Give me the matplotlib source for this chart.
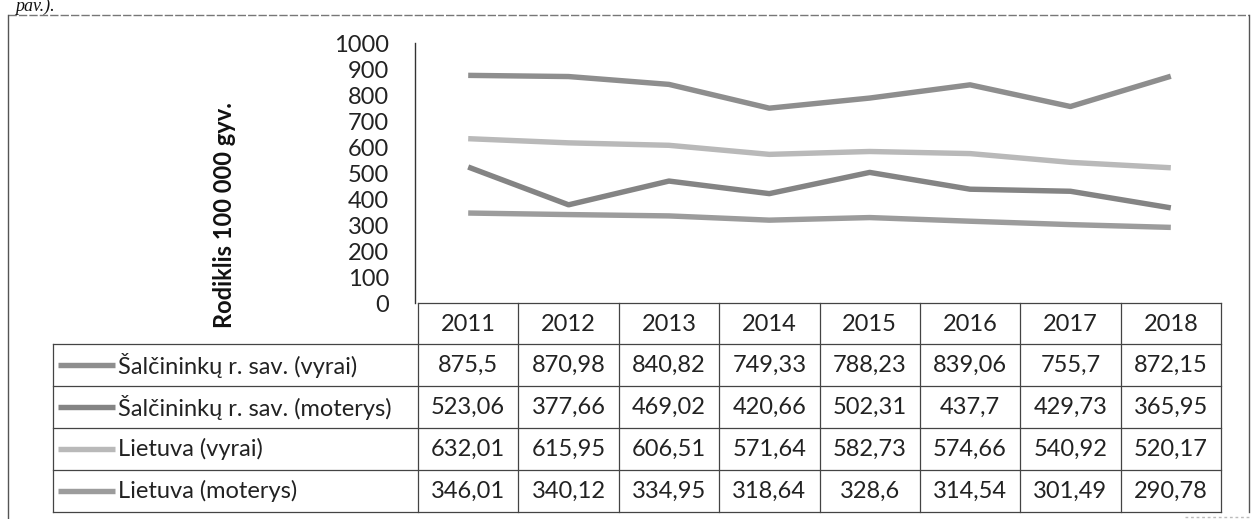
import matplotlib
matplotlib.use('Agg')
import matplotlib.pyplot as plt
from matplotlib.transforms import blended_transform_factory

# ---------------- data ----------------
years = [2011, 2012, 2013, 2014, 2015, 2016, 2017, 2018]
series_names = ["Šalčininkų r. sav. (vyrai)",
                "Šalčininkų r. sav. (moterys)",
                "Lietuva (vyrai)",
                "Lietuva (moterys)"]
salc_vyrai = [875.5, 870.98, 840.82, 749.33, 788.23, 839.06, 755.7, 872.15]
salc_moterys = [523.06, 377.66, 469.02, 420.66, 502.31, 437.7, 429.73, 365.95]
lt_vyrai = [632.01, 615.95, 606.51, 571.64, 582.73, 574.66, 540.92, 520.17]
lt_moterys = [346.01, 340.12, 334.95, 318.64, 328.6, 314.54, 301.49, 290.78]
y_ticks = [0, 100, 200, 300, 400, 500, 600, 700, 800, 900, 1000]
y_label = "Rodiklis 100 000 gyv."

series_values = [salc_vyrai, salc_moterys, lt_vyrai, lt_moterys]
colors = ["#8e8e8e", "#848484", "#b9b9b9", "#9c9c9c"]

plt.rcParams['font.family'] = ['Lato', 'DejaVu Sans']
FS = 17

W, H = 1254, 519
fig = plt.figure(figsize=(W / 100, H / 100), dpi=100)
fig.patch.set_facecolor('white')

# overlay axes in pixel coordinates
ov = fig.add_axes([0, 0, 1, 1])
ov.set_xlim(0, W)
ov.set_ylim(H, 0)
ov.axis('off')

# plot axes
x0, x1 = 418, 1221
ytop, ybot = 43, 303
ax = fig.add_axes([x0 / W, 1 - ybot / H, (x1 - x0) / W, (ybot - ytop) / H])
ax.patch.set_alpha(0)
ax.set_xlim(-0.5, len(years) - 0.5)
ax.set_ylim(0, 1000)
ax.set_yticks(y_ticks)
ax.set_yticklabels([str(t) for t in y_ticks])
ax.tick_params(axis='y', length=0, pad=18.5, labelsize=FS, labelcolor='#222222')
ax.set_xticks([])
for s in ['top', 'right', 'bottom']:
    ax.spines[s].set_visible(False)
ax.spines['left'].set_position(('outward', 2.2))
ax.spines['left'].set_color('#333333')
ax.spines['left'].set_linewidth(1.0)

xs = list(range(len(years)))
for vals, c in zip(series_values, colors):
    ax.plot(xs, vals, color=c, lw=3.9, solid_joinstyle='round', solid_capstyle='butt')

# outer frame
fc = '#555555'
ov.plot([8, 1249], [15, 15], color='#777777', lw=1.0, ls=(0, (6, 1.5)))
ov.plot([8, 8], [15, 519], color=fc, lw=1.0)
ov.plot([1249, 1249], [15, 512], color=fc, lw=1.0)
ov.plot([1185, 1249], [517, 517], color='#bbbbbb', lw=1.0, ls=(0, (2, 2)))

# "pav.)." fragment at top-left
ov.text(15, 11, "pav.).", fontsize=13, style='italic',
        family=['Liberation Serif', 'DejaVu Serif'], ha='left', va='baseline', color='#111111')

# y-label
ov.text(225, 215, y_label, rotation=90, ha='center', va='center',
        fontsize=FS, weight='bold', color='#111111')

# data table
tr = blended_transform_factory(ax.transData, ov.transData)
lc = '#444444'
header_top, header_bot = 303, 344
row_h = 42
rows_y = [header_bot + i * row_h for i in range(len(series_names) + 1)]
tab_left = 53
key_x0, key_x1 = 58, 115

# horizontal lines
ov.plot([x0, x1], [header_top, header_top], color=lc, lw=0.9)
for yy in rows_y:
    ov.plot([tab_left, x1], [yy, yy], color=lc, lw=0.9)
# vertical lines
for i in range(len(years) + 1):
    ov.plot([i - 0.5, i - 0.5], [header_top, rows_y[-1]], color=lc, lw=0.9, transform=tr)
ov.plot([tab_left, tab_left], [header_bot, rows_y[-1]], color=lc, lw=0.9)

# header
for i, yr in enumerate(years):
    ov.text(i, (header_top + header_bot) / 2 + 1, str(yr), transform=tr,
            ha='center', va='center', fontsize=FS, color='#222222')

# rows
for r, (name, vals, c) in enumerate(zip(series_names, series_values, colors)):
    yc = (rows_y[r] + rows_y[r + 1]) / 2
    ov.plot([key_x0, key_x1], [yc, yc], color=c, lw=3.9, solid_capstyle='butt')
    ov.text(key_x1 + 3, yc, name, ha='left', va='center', fontsize=FS, color='#222222')
    for i, v in enumerate(vals):
        ov.text(i, yc, f"{v}".replace('.', ','), transform=tr,
                ha='center', va='center', fontsize=FS, color='#222222')

fig.savefig('out.png', dpi=100, facecolor='white')
